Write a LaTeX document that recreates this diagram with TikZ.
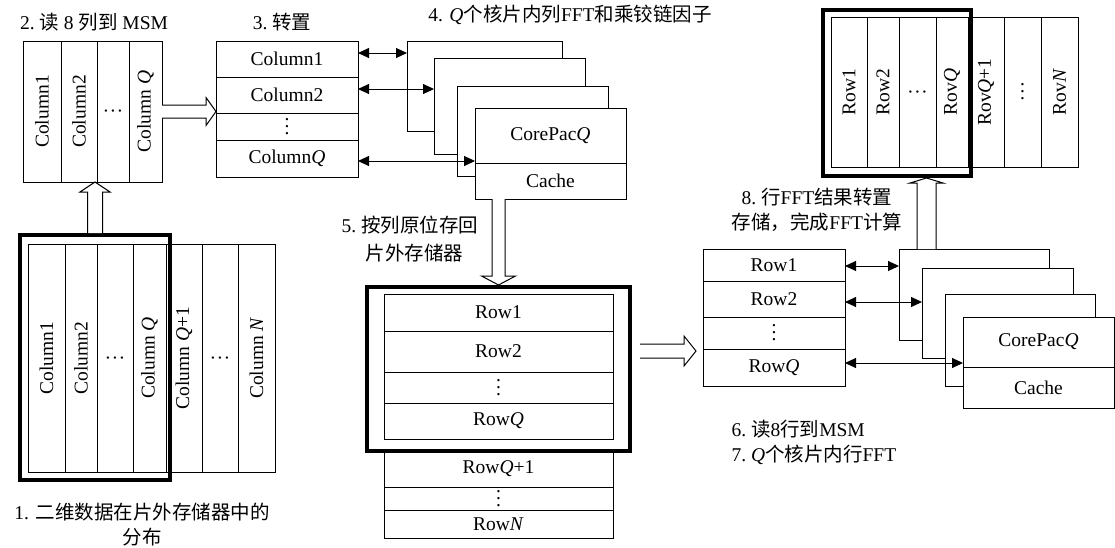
\documentclass[tikz,border=0pt]{standalone}
\usepackage{fontspec}
\setmainfont{Liberation Serif}
\newfontfamily\zh{Noto Sans CJK SC}
\usetikzlibrary{arrows.meta,calc}

% three stacked dots
\newcommand{\vd}{\vbox{\baselineskip7pt\lineskiplimit0pt\hbox{.}\hbox{.}\hbox{.}}}
% hollow block arrows: tail, tip, half shaft, half head, head length
\newcommand{\hollowup}[5]{%
  \draw[hollow] ($(#1)+(-#3,0)$) -- ($(#1|-#2)+(-#3,#5)$) -- ($(#1|-#2)+(-#4,#5)$) -- (#1|-#2)
    -- ($(#1|-#2)+(#4,#5)$) -- ($(#1|-#2)+(#3,#5)$) -- ($(#1)+(#3,0)$);}
\newcommand{\hollowdown}[5]{%
  \draw[hollow] ($(#1)+(-#3,0)$) -- ($(#1|-#2)+(-#3,-#5)$) -- ($(#1|-#2)+(-#4,-#5)$) -- (#1|-#2)
    -- ($(#1|-#2)+(#4,-#5)$) -- ($(#1|-#2)+(#3,-#5)$) -- ($(#1)+(#3,0)$);}
\newcommand{\hollowright}[5]{%
  \draw[hollow] ($(#1)+(0,-#3)$) -- ($(#2|-#1)+(-#5,-#3)$) -- ($(#2|-#1)+(-#5,-#4)$) -- (#2|-#1)
    -- ($(#2|-#1)+(-#5,#4)$) -- ($(#2|-#1)+(-#5,#3)$) -- ($(#1)+(0,#3)$);}

\begin{document}
\begin{tikzpicture}[x=1pt,y=-1pt,font=\fontsize{19.5}{25}\selectfont,
  cell/.style={draw,line width=1pt,fill=white,inner sep=0pt,outer sep=0pt,anchor=north west},
  bigframe/.style={draw,line width=4pt,inner sep=0pt,anchor=north west},
  dbl/.style={line width=1pt,{Triangle[length=11pt,width=10pt]}-{Triangle[length=11pt,width=10pt]}},
  hollow/.style={draw,line width=1pt,fill=white}]
\useasboundingbox (0,0) rectangle (1115,547);

% 1. data in external memory
\foreach \x/\w/\t/\n in {28/37/Column1/d1,65/32/Column2/d2,97/36/\vd/d3,133/33/{Column \textit{Q}}/d4,
    166/36/{Column \textit{Q}+1}/d5,202/36/\vd/d6,238/37/{Column \textit{N}}/d7}
  \node[cell,minimum width=\w pt,minimum height=228pt] (\n) at (\x,244) {\rotatebox{90}{\t}};
\node[bigframe,minimum width=150pt,minimum height=245pt] (dframe) at (18,233) {};
\node[align=center] (cap1) at (142,525) {1. {\zh 二维数据在片外存储器中的}\\{\zh 分布}};

% 2. MSM
\foreach \x/\w/\t/\n in {23/38/Column1/m1,61/36/Column2/m2,97/32/\vd/m3,129/33/{Column \textit{Q}}/m4}
  \node[cell,minimum width=\w pt,minimum height=141pt] (\n) at (\x,41) {\rotatebox{90}{\t}};
\node (cap2) at (94,22) {2.\ {\zh 读} 8 {\zh 列到} MSM};
\hollowup{dframe.north}{m1.south}{7.5}{15}{10}

% 3. transpose
\foreach \y/\h/\t/\n in {41/36/Column1/tc1,77/36/Column2/tc2,113/27/\vd/tc3,140/37/{Column\textit{Q}}/tc4}
  \node[cell,minimum width=142pt,minimum height=\h pt] (\n) at (216,\y) {\t};
\node (cap3) at (282,22) {3.\ {\zh 转置}};
\hollowright{m4.east}{tc1.west}{6.5}{14}{10}

% 4. cores
\node[cell,minimum width=155pt,minimum height=90pt] (c1) at (407,41) {};
\node[cell,minimum width=151pt,minimum height=96pt] (c2) at (434,58) {};
\node[cell,minimum width=151pt,minimum height=90pt] (c3) at (457,86) {};
\node[cell,minimum width=151pt,minimum height=55pt] (cpq) at (475,108) {CorePac\textit{Q}};
\node[cell,minimum width=151pt,minimum height=36pt] (cache) at (475,163) {Cache};
\node (cap4) at (570,15) {4. \textit{Q}{\zh 个核片内列}FFT{\zh 和乘铰链因子}};
\coordinate (a1) at ($(tc1.east)+(0,-6)$);
\coordinate (a2) at ($(tc2.east)+(0,-6)$);
\coordinate (a3) at ($(tc4.east)+(0,2.5)$);
\draw[dbl] (a1) -- (a1 -| c1.west);
\draw[dbl] (a2) -- (a2 -| c2.west);
\draw[dbl] (a3) -- (a3 -| cpq.west);

% 5. store back
\foreach \y/\h/\t/\n in {294/37/Row1/r1,331/41/Row2/r2,372/31/\vd/r3,403/36/{Row\textit{Q}}/r4,
    450/37/{Row\textit{Q}+1}/r5,487/23/\vd/r6,510/28/{Row\textit{N}}/r7}
  \node[cell,minimum width=229pt,minimum height=\h pt] (\n) at (384,\y) {\t};
\node[bigframe,minimum width=263pt,minimum height=164pt] (rframe) at (365,285) {};
\node[anchor=west] (cap5a) at (338,225) {5.\ {\zh 按列原位存回}};
\node[anchor=west] (cap5b) at (362,253) {{\zh 片外存储器}};
\coordinate (t5) at (rframe.north |- cache.south);
\hollowdown{t5}{rframe.north}{6.5}{17}{9}

% 6./7. rows in MSM and cores
\foreach \y/\h/\t/\n in {249/32/Row1/rr1,281/36/Row2/rr2,317/32/\vd/rr3,349/37/{Row\textit{Q}}/rr4}
  \node[cell,minimum width=142pt,minimum height=\h pt] (\n) at (703,\y) {\t};
\coordinate (t6) at ($(rframe.east)+(8,-18)$);
\coordinate (h6) at ($(rr1.west)+(-7,0)$);
\hollowright{t6}{h6}{7}{15}{12}
\node[cell,minimum width=150pt,minimum height=91pt] (e1) at (899,249) {};
\node[cell,minimum width=151pt,minimum height=90pt] (e2) at (922,268) {};
\node[cell,minimum width=150pt,minimum height=92pt] (e3) at (945,294) {};
\node[cell,minimum width=151pt,minimum height=50pt] (epq) at (963,317) {CorePac\textit{Q}};
\node[cell,minimum width=151pt,minimum height=41pt] (ecache) at (963,367) {Cache};
\coordinate (b1) at ($(rr1.east)+(0,1)$);
\coordinate (b2) at ($(rr2.east)+(0,3)$);
\coordinate (b3) at ($(rr4.east)+(0,-4.5)$);
\draw[dbl] (b1) -- (b1 -| e1.west);
\draw[dbl] (b2) -- (b2 -| e2.west);
\draw[dbl] (b3) -- (b3 -| epq.west);
\node[align=left,anchor=west] (cap67) at (728,442) {6.\ {\zh 读}8{\zh 行到}MSM\\7.\ \textit{Q}{\zh 个核片内行}FFT};

% 8. result
\foreach \x/\w/\t/\n in {831/36/Row1/s1,867/32/Row2/s2,899/37/\vd/s3,936/32/{Rov\textit{Q}}/s4,
    968/36/{Rov\textit{Q}+1}/s5,1041/37/{Rov\textit{N}}/s7}
  \node[cell,minimum width=\w pt,minimum height=150pt] (\n) at (\x,17) {\rotatebox{90}{\t}};
\node[cell,minimum width=37pt,minimum height=150pt] (s6) at (1004,17) {\vd};
\node[bigframe,minimum width=148pt,minimum height=166pt] (tframe) at (821,8) {};
\node[align=center] (cap8) at (817,210) {8.\ {\zh 行}FFT{\zh 结果转置}\\{\zh 存储，完成}FFT{\zh 计算}};
\coordinate (t8) at ($(e1.north west)+(27.5,0)$);
\hollowup{t8}{tframe.south}{9.5}{16.5}{5}
\end{tikzpicture}
\end{document}
